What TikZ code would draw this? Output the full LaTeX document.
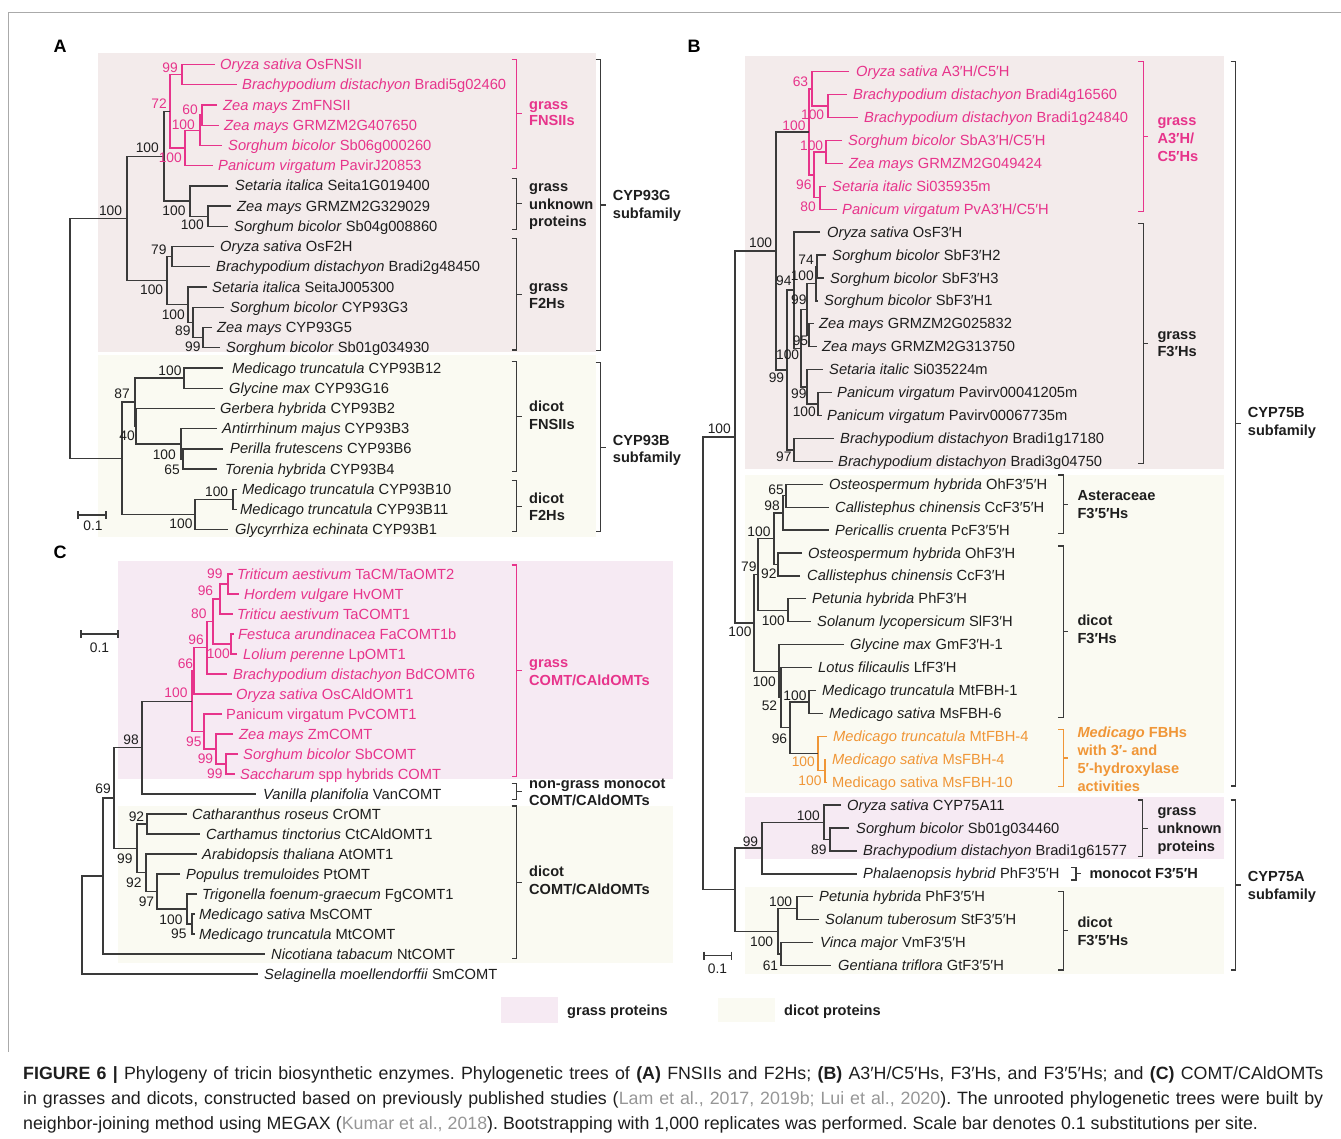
\documentclass[tikz,border=0pt]{standalone}
\usepackage{fontspec}
\setmainfont{Liberation Sans}
\usetikzlibrary{calc}
\frenchspacing
\definecolor{brcol}{RGB}{58,58,58}
\definecolor{txtcol}{RGB}{30,30,30}
\definecolor{pkcol}{RGB}{231,52,139}
\definecolor{orcol}{RGB}{240,150,55}
\definecolor{pinkbg}{RGB}{243,235,235}
\definecolor{lavbg}{RGB}{246,234,243}
\definecolor{creambg}{RGB}{250,250,242}
\definecolor{citecol}{RGB}{150,150,150}
\definecolor{framecol}{RGB}{170,170,170}
\newcounter{lbl}
\newcommand\Leaf[7][]{\coordinate (#2) at (#3,#4);\node[lft,#1] (#2t) at (#5,#4+5) {\textit{#6} #7};}
\newcommand\LeafR[6][]{\coordinate (#2) at (#3,#4);\node[lft,#1] (#2t) at (#5,#4+5) {#6};}
\newcommand\Nd[5][]{\coordinate (#2m) at ($(#4)!0.5!(#5)$);\coordinate (#2) at (#3,0 |- #2m);\draw[br,#1] (#4) -| (#2) |- (#5);}
\newcommand\Bs[4][]{\stepcounter{lbl}\node[bsl,#1] (bs\thelbl) at (#2,#3+5) {#4};}
\newcommand\Brk[5][]{\coordinate (#2) at (#3,{(#4+#5)/2});\draw[brk,#1] (#3-5,#4) -- (#3,#4) -- (#3,#5) -- (#3-5,#5);\draw[brk,#1] (#2) -- ++(5,0);}
\newcommand\Bl[4][]{\stepcounter{lbl}\node[blab,#1] (bl\thelbl) at (#2,#3+5) {#4};}
\begin{document}
\begin{tikzpicture}[x=1pt,y=-1pt,
  lft/.style={font=\fontsize{14.7}{16}\selectfont, anchor=base west, inner sep=0pt, text=txtcol},
  bsl/.style={font=\fontsize{13.8}{15}\selectfont, anchor=base east, inner sep=0pt, text=txtcol},
  blab/.style={font=\bfseries\fontsize{14.6}{16}\selectfont, anchor=base west, inner sep=0pt, text=txtcol},
  br/.style={draw=brcol, line width=1.3pt},
  brk/.style={draw=brcol, line width=1.2pt},
  pkl/.style={draw=pkcol}, orl/.style={draw=orcol},
  pkt/.style={text=pkcol}, ort/.style={text=orcol},
  panelletter/.style={font=\bfseries\fontsize{18}{20}\selectfont, inner sep=0pt, text=black},
  captxt/.style={font=\fontsize{17.8}{20}\selectfont, anchor=base west, inner sep=0pt, text=txtcol}]
\useasboundingbox (0,0) rectangle (1341,1138);
% frame
\coordinate (f1) at (8,1052); \coordinate (f2) at (8,12); \coordinate (f3) at (1341,12);
\draw[framecol, line width=1pt] (f1) -- (f2) -- (f3);
% backgrounds
\fill[pinkbg] (98,53) rectangle (596,352);
\fill[creambg] (98,355) rectangle (596,537);
\fill[lavbg] (118,561) rectangle (673,779);
\fill[creambg] (118,806) rectangle (673,963);
\fill[pinkbg] (745,56) rectangle (1224,469);
\fill[creambg] (745,475) rectangle (1224,793);
\fill[lavbg] (745,797) rectangle (1224,859);
\fill[creambg] (745,887) rectangle (1224,974);
% panel letters
\node[panelletter] (pA) at (60,46) {A};
\node[panelletter] (pB) at (694,46) {B};
\node[panelletter] (pC) at (60,552) {C};

%%%%%%%%%%%%%%%% PANEL A
\Leaf[pkt]{a1}{215}{64.5}{220}{Oryza sativa}{OsFNSII}
\Leaf[pkt]{a2}{237}{84.7}{242}{Brachypodium distachyon}{Bradi5g02460}
\Leaf[pkt]{a3}{217}{105.0}{223}{Zea mays}{ZmFNSII}
\Leaf[pkt]{a4}{219}{125.2}{224}{Zea mays}{GRMZM2G407650}
\Leaf[pkt]{a5}{222}{145.4}{228}{Sorghum bicolor}{Sb06g000260}
\Leaf[pkt]{a6}{213}{165.7}{218}{Panicum virgatum}{PavirJ20853}
\Leaf{a7}{228}{185.9}{235}{Setaria italica}{Seita1G019400}
\Leaf{a8}{231}{206.1}{237}{Zea mays}{GRMZM2G329029}
\Leaf{a9}{228}{226.3}{234}{Sorghum bicolor}{Sb04g008860}
\Leaf{a10}{214}{246.6}{220}{Oryza sativa}{OsF2H}
\Leaf{a11}{210}{266.8}{216}{Brachypodium distachyon}{Bradi2g48450}
\Leaf{a12}{207}{287.0}{212}{Setaria italica}{SeitaJ005300}
\Leaf{a13}{224}{307.3}{230}{Sorghum bicolor}{CYP93G3}
\Leaf{a14}{212}{327.5}{217}{Zea mays}{CYP93G5}
\Leaf{a15}{220}{347.7}{226}{Sorghum bicolor}{Sb01g034930}
\Leaf{a16}{223}{368.0}{232}{Medicago truncatula}{CYP93B12}
\Leaf{a17}{223}{388.2}{229}{Glycine max}{CYP93G16}
\Leaf{a18}{215}{408.4}{220}{Gerbera hybrida}{CYP93B2}
\Leaf{a19}{217}{428.7}{222}{Antirrhinum majus}{CYP93B3}
\Leaf{a20}{223}{448.9}{230}{Perilla frutescens}{CYP93B6}
\Leaf{a21}{217}{469.1}{225}{Torenia hybrida}{CYP93B4}
\Leaf{a22}{237}{489.3}{242}{Medicago truncatula}{CYP93B10}
\Leaf{a23}{237}{509.6}{240}{Medicago truncatula}{CYP93B11}
\Leaf{a24}{228}{529.8}{235}{Glycyrrhiza echinata}{CYP93B1}
\Nd[pkl]{A99}{182}{a1}{a2}
\Nd[pkl]{A60}{202}{a3}{a4}
\Nd[pkl]{A100b}{200}{A60}{a5}
\Nd[pkl]{A100a}{185}{A100b}{a6}
\Nd[pkl]{A72}{170}{A99}{A100a}
\Nd{A100e}{208}{a8}{a9}
\Nd{A100d}{190}{a7}{A100e}
\Nd{A100c}{164}{A72}{A100d}
\Nd{A79}{172}{a10}{a11}
\Nd{A99b}{203}{a14}{a15}
\Nd{A89}{193}{a13}{A99b}
\Nd{A100g}{188}{a12}{A89}
\Nd{A100f}{167}{A79}{A100g}
\Nd{A100h}{127}{A100c}{A100f}
\Nd{A100i}{184}{a16}{a17}
\Nd{A65}{183}{a20}{a21}
\Nd{A100j}{181}{a19}{A65}
\Nd{A40}{136}{a18}{A100j}
\Nd{A87}{135}{A100i}{A40}
\Nd{A100l}{233}{a22}{a23}
\Nd{A100k}{195}{A100l}{a24}
\Nd{Adr}{122}{A87}{A100k}
\Nd{Aroot}{70}{A100h}{Adr}
\Bs[pkt]{178}{67}{99}
\Bs[pkt]{167}{103}{72}
\Bs[pkt]{198}{109}{60}
\Bs[pkt]{195}{124.3}{100}
\Bs[pkt]{182}{157.7}{100}
\Bs{159}{147.3}{100}
\Bs{185.7}{210}{100}
\Bs{204}{224.3}{100}
\Bs{122.3}{210}{100}
\Bs{166.7}{249.3}{79}
\Bs{163.3}{289.3}{100}
\Bs{185}{314}{100}
\Bs{190.7}{330.7}{89}
\Bs{200.7}{346.7}{99}
\Bs{181.7}{370}{100}
\Bs{130}{393.3}{87}
\Bs{135}{435}{40}
\Bs{176}{454.3}{100}
\Bs{180}{469}{65}
\Bs{228.3}{491.7}{100}
\Bs{192.7}{523.3}{100}
% scale bar A
\coordinate (sa1) at (78,515); \coordinate (sa2) at (106,515);
\draw[brk] (sa1) -- (sa2) (78,511) -- (78,519) (106,511) -- (106,519);
\node[bsl, anchor=base] (sal) at (93,530) {0.1};
% brackets A
\Brk[pkl]{kA1}{516.7}{59.3}{168.3}
\Brk{kA2}{516.7}{178.3}{229.3}
\Brk{kA3}{516.7}{238.3}{350}
\Brk{kA4}{600.7}{59.3}{350.7}
\Brk{kA5}{516.7}{361.7}{471.7}
\Brk{kA6}{516.7}{480.7}{531.7}
\Brk{kA7}{600.7}{362.7}{531.7}
\Bl[pkt]{529}{104}{grass}
\Bl[pkt]{529}{120.7}{FNSIIs}
\Bl{529}{186.7}{grass}
\Bl{529}{204.3}{unknown}
\Bl{529}{221.7}{proteins}
\Bl{529}{286}{grass}
\Bl{529}{303.3}{F2Hs}
\Bl{612.7}{195.7}{CYP93G}
\Bl{612.7}{213.3}{subfamily}
\Bl{529}{406.7}{dicot}
\Bl{529}{424.3}{FNSIIs}
\Bl{529}{498.3}{dicot}
\Bl{529}{515.7}{F2Hs}
\Bl{612.7}{440}{CYP93B}
\Bl{612.7}{457.7}{subfamily}

%%%%%%%%%%%%%%%% PANEL C
\Leaf[pkt]{c1}{233}{574}{237}{Triticum aestivum}{TaCM/TaOMT2}
\Leaf[pkt]{c2}{239}{594}{244}{Hordem vulgare}{HvOMT}
\Leaf[pkt]{c3}{233}{614}{237}{Triticu aestivum}{TaCOMT1}
\Leaf[pkt]{c4}{234}{634}{238}{Festuca arundinacea}{FaCOMT1b}
\Leaf[pkt]{c5}{237}{654}{243}{Lolium perenne}{LpOMT1}
\Leaf[pkt]{c6}{227}{674}{233}{Brachypodium distachyon}{BdCOMT6}
\Leaf[pkt]{c7}{232}{694}{236}{Oryza sativa}{OsCAldOMT1}
\LeafR[pkt]{c8}{222}{714}{226}{Panicum virgatum PvCOMT1}
\Leaf[pkt]{c9}{233}{734}{239}{Zea mays}{ZmCOMT}
\Leaf[pkt]{c10}{238}{754}{243}{Sorghum bicolor}{SbCOMT}
\Leaf[pkt]{c11}{235}{774}{240}{Saccharum}{spp hybrids COMT}
\Leaf{c12}{256}{794}{263}{Vanilla planifolia}{VanCOMT}
\Leaf{c13}{187}{814}{192}{Catharanthus roseus}{CrOMT}
\Leaf{c14}{200}{834}{206}{Carthamus tinctorius}{CtCAldOMT1}
\Leaf{c15}{197}{854}{202}{Arabidopsis thaliana}{AtOMT1}
\Leaf{c16}{180}{874}{186}{Populus tremuloides}{PtOMT}
\Leaf{c17}{197}{894}{202}{Trigonella foenum-graecum}{FgCOMT1}
\Leaf{c18}{195}{914}{199}{Medicago sativa}{MsCOMT}
\Leaf{c19}{195}{934}{199}{Medicago truncatula}{MtCOMT}
\Leaf{c20}{265}{954}{271}{Nicotiana tabacum}{NtCOMT}
\Leaf{c21}{258}{974}{264}{Selaginella moellendorffii}{SmCOMT}
\Nd[pkl]{C99a}{228}{c1}{c2}
\Nd[pkl]{C96a}{220}{C99a}{c3}
\Nd[pkl]{C100a}{231}{c4}{c5}
\Nd[pkl]{C80}{213}{C96a}{C100a}
\Nd[pkl]{C96b}{207}{C80}{c6}
\Nd[pkl]{C66}{194}{C96b}{c7}
\Nd[pkl]{C99c}{226}{c10}{c11}
\Nd[pkl]{C99b}{216}{c9}{C99c}
\Nd[pkl]{C95}{204}{c8}{C99b}
\Nd[pkl]{C100}{192}{C66}{C95}
\Nd{C98}{142}{C100}{c12}
\Nd{C92a}{147}{c13}{c14}
\Nd{C95b}{192}{c18}{c19}
\Nd{C100b}{187}{c17}{C95b}
\Nd{C97}{157}{c16}{C100b}
\Nd{C92b}{146}{c15}{C97}
\Nd{C99}{137}{C92a}{C92b}
\Nd{C69}{114}{C98}{C99}
\Nd{C69p}{103}{C69}{c20}
\Nd{Croot}{82}{C69p}{c21}
\Bs[pkt]{222.7}{573.3}{99}
\Bs[pkt]{213.3}{590}{96}
\Bs[pkt]{206.7}{613.3}{80}
\Bs[pkt]{204}{639}{96}
\Bs[pkt]{230}{653.3}{100}
\Bs[pkt]{193.3}{663.3}{66}
\Bs[pkt]{187.7}{692.7}{100}
\Bs[pkt]{201.7}{741.7}{95}
\Bs[pkt]{213.3}{758.3}{99}
\Bs[pkt]{222.7}{773.3}{99}
\Bs{139}{739.3}{98}
\Bs{111}{788}{69}
\Bs{144.3}{816}{92}
\Bs{132.7}{858.3}{99}
\Bs{141.7}{882.7}{92}
\Bs{154.3}{901.7}{97}
\Bs{182.7}{919.3}{100}
\Bs{186.7}{933.3}{95}
% scale bar C
\coordinate (sc1) at (81,634); \coordinate (sc2) at (118,634);
\draw[brk] (sc1) -- (sc2) (81,630) -- (81,638) (118,630) -- (118,638);
\node[bsl, anchor=base] (scl) at (99.5,652) {0.1};
% brackets C
\Brk[pkl]{kC1}{516.7}{565}{776.7}
\Brk{kC2}{516.7}{783.3}{799.3}
\Brk{kC3}{516.7}{806}{958.3}
\Bl[pkt]{529}{662.7}{grass}
\Bl[pkt]{529}{680}{COMT/CAldOMTs}
\Bl{529}{783.3}{non-grass monocot}
\Bl{529}{800.7}{COMT/CAldOMTs}
\Bl{529}{871.7}{dicot}
\Bl{529}{889}{COMT/CAldOMTs}

%%%%%%%%%%%%%%%% PANEL B
\Leaf[pkt]{b1}{849}{71.7}{856}{Oryza sativa}{A3′H/C5′H}
\Leaf[pkt]{b2}{847}{94.6}{853}{Brachypodium distachyon}{Bradi4g16560}
\Leaf[pkt]{b3}{858}{117.5}{864}{Brachypodium distachyon}{Bradi1g24840}
\Leaf[pkt]{b4}{842}{140.5}{848}{Sorghum bicolor}{SbA3′H/C5′H}
\Leaf[pkt]{b5}{843}{163.4}{849}{Zea mays}{GRMZM2G049424}
\Leaf[pkt]{b6}{826}{186.3}{832}{Setaria italic}{Si035935m}
\Leaf[pkt]{b7}{837}{209.2}{842}{Panicum virgatum}{PvA3′H/C5′H}
\Leaf{b8}{820}{232.1}{827}{Oryza sativa}{OsF3′H}
\Leaf{b9}{826}{255.1}{832}{Sorghum bicolor}{SbF3′H2}
\Leaf{b10}{824}{278.0}{830}{Sorghum bicolor}{SbF3′H3}
\Leaf{b11}{818}{300.9}{824}{Sorghum bicolor}{SbF3′H1}
\Leaf{b12}{814}{323.8}{819}{Zea mays}{GRMZM2G025832}
\Leaf{b13}{817}{346.7}{822}{Zea mays}{GRMZM2G313750}
\Leaf{b14}{823}{369.7}{829}{Setaria italic}{Si035224m}
\Leaf{b15}{832}{392.6}{837}{Panicum virgatum}{Pavirv00041205m}
\Leaf{b16}{822}{415.5}{827}{Panicum virgatum}{Pavirv00067735m}
\Leaf{b17}{834}{438.4}{840}{Brachypodium distachyon}{Bradi1g17180}
\Leaf{b18}{833}{461.3}{838}{Brachypodium distachyon}{Bradi3g04750}
\Leaf{b19}{823}{484.3}{829}{Osteospermum hybrida}{OhF3′5′H}
\Leaf{b20}{829}{507.2}{835}{Callistephus chinensis}{CcF3′5′H}
\Leaf{b21}{829}{530.1}{835}{Pericallis cruenta}{PcF3′5′H}
\Leaf{b22}{802}{553.0}{808}{Osteospermum hybrida}{OhF3′H}
\Leaf{b23}{800}{575.9}{807}{Callistephus chinensis}{CcF3′H}
\Leaf{b24}{806}{598.8}{812}{Petunia hybrida}{PhF3′H}
\Leaf{b25}{811}{621.8}{817}{Solanum lycopersicum}{SlF3′H}
\Leaf{b26}{844}{644.7}{850}{Glycine max}{GmF3′H-1}
\Leaf{b27}{812}{667.6}{818}{Lotus filicaulis}{LfF3′H}
\Leaf{b28}{816}{690.5}{822}{Medicago truncatula}{MtFBH-1}
\Leaf{b29}{823}{713.4}{829}{Medicago sativa}{MsFBH-6}
\Leaf[ort]{b30}{827}{736.4}{833}{Medicago truncatula}{MtFBH-4}
\Leaf[ort]{b31}{825}{759.3}{832}{Medicago sativa}{MsFBH-4}
\LeafR[ort]{b32}{827}{782.2}{832}{Medicago sativa MsFBH-10}
\Leaf{b33}{841}{805.1}{847}{Oryza sativa}{CYP75A11}
\Leaf{b34}{849}{828.0}{856}{Sorghum bicolor}{Sb01g034460}
\Leaf{b35}{857}{850.9}{863}{Brachypodium distachyon}{Bradi1g61577}
\Leaf{b36}{857}{873.9}{863}{Phalaenopsis hybrid}{PhF3′5′H}
\Leaf{b37}{813}{896.8}{819}{Petunia hybrida}{PhF3′5′H}
\Leaf{b38}{819}{919.7}{825}{Solanum tuberosum}{StF3′5′H}
\Leaf{b39}{813}{942.6}{820}{Vinca major}{VmF3′5′H}
\Leaf{b40}{831}{965.5}{838}{Gentiana triflora}{GtF3′5′H}
\Nd[pkl]{B100a}{828}{b2}{b3}
\Nd[pkl]{B63}{812}{b1}{B100a}
\Nd[pkl]{B100c}{826}{b4}{b5}
\Nd[pkl]{B80}{820}{b6}{b7}
\Nd[pkl]{B96}{814}{B100c}{B80}
\Nd[pkl]{B100b}{809}{B63}{B96}
\Nd{B74}{817}{b9}{b10}
\Nd{B100s}{816}{B74}{b11}
\Nd{B95}{809}{b12}{b13}
\Nd{B99s}{807}{B100s}{B95}
\Nd{B100p}{818}{b15}{b16}
\Nd{B99b}{807}{b14}{B100p}
\Nd{B100x}{801}{B99s}{B99b}
\Nd{B94}{794}{b8}{B100x}
\Nd{B97}{794}{b17}{b18}
\Nd{B99y}{787}{B94}{B97}
\Nd{B100d}{776}{B100b}{B99y}
\Nd{B65}{786}{b19}{b20}
\Nd{B98}{783}{B65}{b21}
\Nd{B92}{778}{b22}{b23}
\Nd{B100f}{774}{B98}{B92}
\Nd{B100g}{788}{b24}{b25}
\Nd{B79}{758}{B100f}{B100g}
\Nd{B100h}{809}{b28}{b29}
\Nd[orl]{B100q}{825}{b31}{b32}
\Nd[orl]{B100o}{818}{b30}{B100q}
\Nd{B96d}{790}{B100h}{B100o}
\Nd{B52}{781}{b27}{B96d}
\Nd{B100i}{779}{b26}{B52}
\Nd{B100j}{754}{B79}{B100i}
\Nd{B100}{735}{B100d}{B100j}
\Nd{B89}{830}{b34}{b35}
\Nd{B100k}{824}{b33}{B89}
\Nd{B99m}{762}{B100k}{b36}
\Nd{B100n}{797}{b37}{b38}
\Nd{B61}{781}{b39}{b40}
\Nd{B100r}{778}{B100n}{B61}
\Nd{BA}{735}{B99m}{B100r}
\Nd{Broot}{703}{B100}{BA}
\Bs[pkt]{808.3}{81}{63}
\Bs[pkt]{824.3}{114}{100}
\Bs[pkt]{805.7}{125.7}{100}
\Bs[pkt]{823.3}{145.7}{100}
\Bs[pkt]{811.7}{184}{96}
\Bs[pkt]{816}{206.7}{80}
\Bs{814}{259.3}{74}
\Bs{814}{275}{100}
\Bs{791.7}{280.7}{94}
\Bs{806.7}{299.3}{99}
\Bs{808.3}{340.7}{95}
\Bs{799.3}{354}{100}
\Bs{784.3}{377.7}{99}
\Bs{806.7}{393.3}{99}
\Bs{816}{411.7}{100}
\Bs{791.7}{456.7}{97}
\Bs{772.3}{242.3}{100}
\Bs{731}{428.3}{100}
\Bs{784}{489}{65}
\Bs{780}{505.7}{98}
\Bs{770.7}{531}{100}
\Bs{776.7}{573.3}{92}
\Bs{756.7}{566.7}{79}
\Bs{785}{620}{100}
\Bs{751.7}{631}{100}
\Bs{776}{681}{100}
\Bs{806.7}{695}{100}
\Bs{777.3}{705.7}{52}
\Bs{787.3}{738.3}{96}
\Bs[ort]{815}{761.7}{100}
\Bs[ort]{821.7}{780}{100}
\Bs{820}{815.7}{100}
\Bs{758.3}{841}{99}
\Bs{826.7}{849.3}{89}
\Bs{792.3}{901}{100}
\Bs{773.3}{941.7}{100}
\Bs{778.3}{965}{61}
% scale bar B
\coordinate (sb1) at (704,955.7); \coordinate (sb2) at (731.7,955.7);
\draw[brk] (sb1) -- (sb2) (704,951.7) -- (704,959.7) (731.7,951.7) -- (731.7,959.7);
\node[bsl, anchor=base] (sbl) at (717.5,973) {0.1};
% brackets B
\Brk[pkl]{kB1}{1143.3}{61.7}{211.7}
\Brk{kB2}{1143.3}{223.3}{463.3}
\Brk{kB3}{1235.7}{61.7}{786}
\Brk{kB4}{1063.3}{475}{533.3}
\Brk{kB5}{1063.3}{546}{717.3}
\Brk[orl]{kB6}{1063.3}{729.3}{786.7}
\Brk{kB7}{1142.7}{800}{856.7}
\Brk{kB8}{1076}{867.3}{880}
\Brk{kB9}{1063.3}{891.7}{970}
\Brk{kB10}{1235.7}{800}{970}
\Bl[pkt]{1157.3}{120.7}{grass}
\Bl[pkt]{1157.3}{138.3}{A3′H/}
\Bl[pkt]{1157.3}{156}{C5′Hs}
\Bl{1157.3}{334}{grass}
\Bl{1157.3}{351.7}{F3′Hs}
\Bl{1247.7}{412.7}{CYP75B}
\Bl{1247.7}{430}{subfamily}
\Bl{1077.3}{495}{Asteraceae}
\Bl{1077.3}{513.3}{F3′5′Hs}
\Bl{1077.3}{620.7}{dicot}
\Bl{1077.3}{638.3}{F3′Hs}
\Bl[ort]{1077.3}{732.7}{\textit{Medicago} FBHs}
\Bl[ort]{1077.3}{750.7}{with 3′- and}
\Bl[ort]{1077.3}{768.3}{5′-hydroxylase}
\Bl[ort]{1077.3}{786}{activities}
\Bl{1157.3}{810.7}{grass}
\Bl{1157.3}{828.3}{unknown}
\Bl{1157.3}{846}{proteins}
\Bl{1089.3}{873.3}{monocot F3′5′H}
\Bl{1077.3}{922.7}{dicot}
\Bl{1077.3}{940.7}{F3′5′Hs}
\Bl{1247.7}{876}{CYP75A}
\Bl{1247.7}{894}{subfamily}

%%%%%%%%%%%%%%%% legend
\fill[lavbg] (501,997) rectangle (558,1023);
\fill[creambg] (718,998) rectangle (775,1022);
\Bl{567}{1010}{grass proteins}
\Bl{784}{1010}{dicot proteins}

%%%%%%%%%%%%%%%% caption
\node[captxt] (cap1) at (23,1079) {\makebox[1300pt][s]{\textbf{FIGURE 6 |} Phylogeny of tricin biosynthetic enzymes. Phylogenetic trees of \textbf{(A)} FNSIIs and F2Hs; \textbf{(B)} A3′H/C5′Hs, F3′Hs, and F3′5′Hs; and \textbf{(C)} COMT/CAldOMTs}};
\node[captxt] (cap2) at (23,1104) {\makebox[1300pt][s]{in grasses and dicots, constructed based on previously published studies (\textcolor{citecol}{Lam et al., 2017, 2019b; Lui et al., 2020}). The unrooted phylogenetic trees were built by}};
\node[captxt] (cap3) at (23,1129) {neighbor-joining method using MEGAX (\textcolor{citecol}{Kumar et al., 2018}). Bootstrapping with 1,000 replicates was performed. Scale bar denotes 0.1 substitutions per site.};
\end{tikzpicture}
\end{document}
